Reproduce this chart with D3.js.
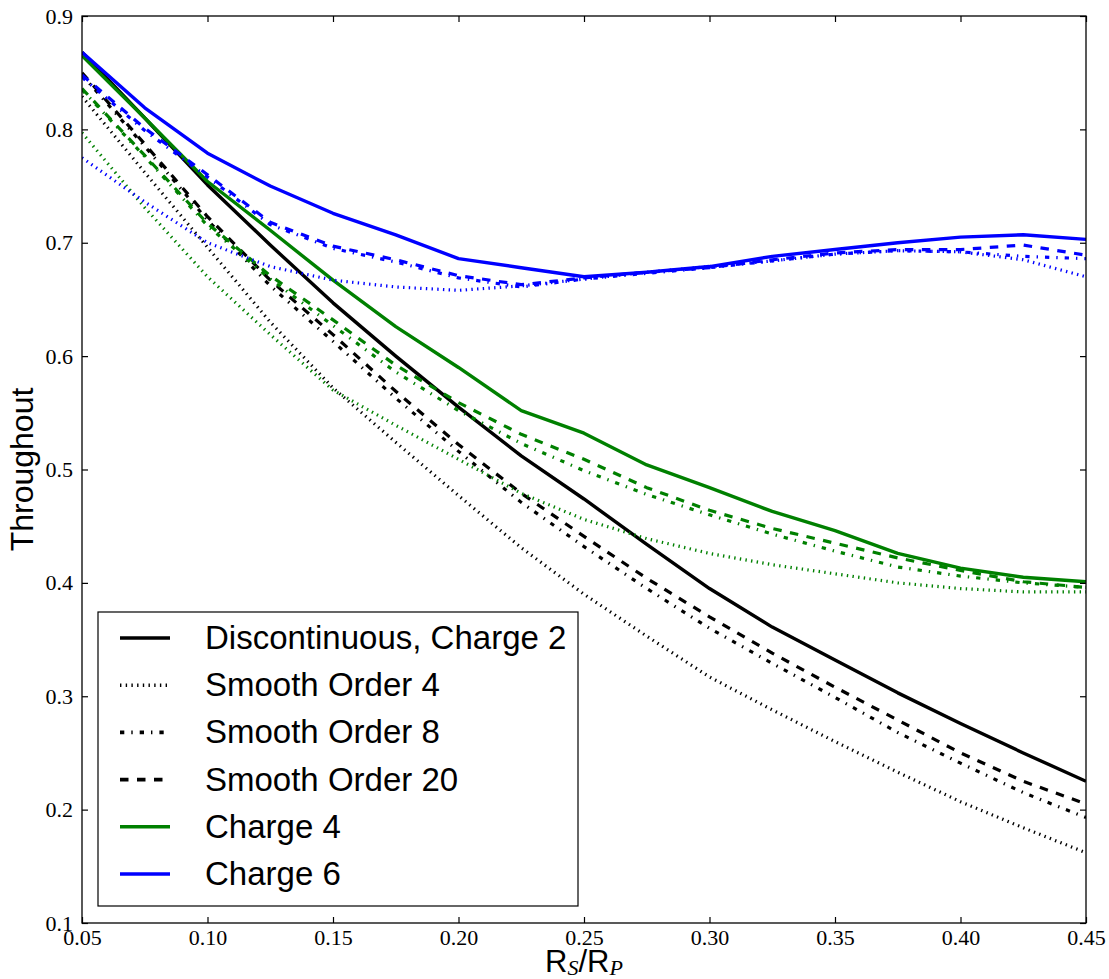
<!DOCTYPE html>
<html>
<head>
<meta charset="utf-8">
<script src="https://cdn.jsdelivr.net/npm/d3@7"></script>
<style>
  html, body { margin: 0; padding: 0; background: #fff; }
  svg { display: block; }
</style>
</head>
<body>
<div id="chart"></div>
<script>
// ---------- data ----------
const ratios = [0.05, 0.075, 0.10, 0.125, 0.15, 0.175, 0.20, 0.225, 0.25, 0.275, 0.30, 0.325, 0.35, 0.375, 0.40, 0.425, 0.45];

const charge2Disc   = [0.868, 0.810, 0.751, 0.698, 0.647, 0.600, 0.555, 0.512, 0.474, 0.434, 0.395, 0.361, 0.332, 0.303, 0.276, 0.250, 0.225];
const charge2Ord4   = [0.829, 0.762, 0.696, 0.630, 0.572, 0.524, 0.477, 0.431, 0.390, 0.353, 0.317, 0.288, 0.260, 0.233, 0.207, 0.184, 0.162];
const charge2Ord8   = [0.848, 0.785, 0.720, 0.662, 0.613, 0.563, 0.516, 0.471, 0.432, 0.395, 0.360, 0.329, 0.299, 0.268, 0.241, 0.215, 0.193];
const charge2Ord20  = [0.850, 0.787, 0.723, 0.667, 0.619, 0.569, 0.522, 0.479, 0.441, 0.404, 0.370, 0.338, 0.308, 0.279, 0.250, 0.225, 0.205];

const charge4Disc   = [0.865, 0.810, 0.754, 0.711, 0.667, 0.626, 0.590, 0.552, 0.532, 0.504, 0.484, 0.463, 0.446, 0.426, 0.413, 0.405, 0.401];
const charge4Ord4   = [0.797, 0.731, 0.670, 0.619, 0.570, 0.539, 0.509, 0.479, 0.456, 0.439, 0.426, 0.416, 0.408, 0.400, 0.395, 0.392, 0.392];
const charge4Ord8   = [0.835, 0.776, 0.715, 0.668, 0.627, 0.586, 0.552, 0.523, 0.499, 0.478, 0.460, 0.443, 0.428, 0.414, 0.406, 0.400, 0.396];
const charge4Ord20  = [0.836, 0.777, 0.717, 0.671, 0.632, 0.592, 0.559, 0.531, 0.509, 0.484, 0.464, 0.448, 0.435, 0.422, 0.411, 0.401, 0.396];

const charge6Disc   = [0.868, 0.819, 0.779, 0.750, 0.726, 0.707, 0.686, 0.678, 0.670, 0.674, 0.679, 0.688, 0.694, 0.700, 0.705, 0.707, 0.703];
const charge6Ord4   = [0.775, 0.736, 0.700, 0.679, 0.667, 0.661, 0.658, 0.662, 0.668, 0.674, 0.679, 0.684, 0.690, 0.693, 0.692, 0.685, 0.670];
const charge6Ord8   = [0.846, 0.799, 0.758, 0.716, 0.695, 0.683, 0.669, 0.661, 0.668, 0.673, 0.678, 0.684, 0.690, 0.693, 0.692, 0.688, 0.686];
const charge6Ord20  = [0.848, 0.801, 0.760, 0.718, 0.697, 0.685, 0.671, 0.663, 0.669, 0.674, 0.678, 0.685, 0.691, 0.694, 0.694, 0.698, 0.689];

const xTicks = [0.05, 0.10, 0.15, 0.20, 0.25, 0.30, 0.35, 0.40, 0.45];
const yTicks = [0.1, 0.2, 0.3, 0.4, 0.5, 0.6, 0.7, 0.8, 0.9];

const legendLabels = ["Discontinuous, Charge 2", "Smooth Order 4", "Smooth Order 8", "Smooth Order 20", "Charge 4", "Charge 6"];

// ---------- styles ----------
const BLACK = "#000000", GREEN = "#008000", BLUE = "#0000ff";
const LW = 3.4;
const dashStyles = {
  solid: null,
  dotted: "1.4,4.3",
  dashdot: "4.3,7,1.4,7",
  dashed: "8.5,8.5"
};

const series = [
  { values: charge2Disc,  color: BLACK, style: "solid" },
  { values: charge2Ord4,  color: BLACK, style: "dotted" },
  { values: charge2Ord8,  color: BLACK, style: "dashdot" },
  { values: charge2Ord20, color: BLACK, style: "dashed" },
  { values: charge4Disc,  color: GREEN, style: "solid" },
  { values: charge4Ord4,  color: GREEN, style: "dotted" },
  { values: charge4Ord8,  color: GREEN, style: "dashdot" },
  { values: charge4Ord20, color: GREEN, style: "dashed" },
  { values: charge6Disc,  color: BLUE,  style: "solid" },
  { values: charge6Ord4,  color: BLUE,  style: "dotted" },
  { values: charge6Ord8,  color: BLUE,  style: "dashdot" },
  { values: charge6Ord20, color: BLUE,  style: "dashed" }
];
const legendItems = [
  { color: BLACK, style: "solid" },
  { color: BLACK, style: "dotted" },
  { color: BLACK, style: "dashdot" },
  { color: BLACK, style: "dashed" },
  { color: GREEN, style: "solid" },
  { color: BLUE,  style: "solid" }
];

// ---------- layout ----------
const W = 1109, H = 979;
const L = 82, R = 1086, T = 16, B = 923;

const svg = d3.select("#chart").append("svg").attr("width", W).attr("height", H);

const x = d3.scaleLinear().domain([0.05, 0.45]).range([L, R]);
const y = d3.scaleLinear().domain([0.1, 0.9]).range([B, T]);

svg.append("defs").append("clipPath").attr("id", "plotclip")
  .append("rect").attr("x", L).attr("y", T).attr("width", R - L).attr("height", B - T);

// lines
const line = d3.line().x((d, i) => x(ratios[i])).y(d => y(d));
const gLines = svg.append("g").attr("clip-path", "url(#plotclip)");
series.forEach(s => {
  const p = gLines.append("path")
    .attr("d", line(s.values))
    .attr("fill", "none")
    .attr("stroke", s.color)
    .attr("stroke-width", s.style === "solid" ? LW : 3.2)
    .attr("stroke-linejoin", "round");
  if (dashStyles[s.style]) p.attr("stroke-dasharray", dashStyles[s.style]).attr("stroke-linecap", "butt");
});

// axes
const tickFont = "'Liberation Serif', 'DejaVu Serif', serif";
function styleAxis(g) {
  g.select(".domain").remove();
  g.selectAll(".tick line").attr("stroke", "#000").attr("stroke-width", 1.2);
  g.selectAll(".tick text").attr("font-family", tickFont).attr("font-size", 22).attr("fill", "#000");
}
svg.append("g").attr("transform", `translate(0,${B})`)
  .call(d3.axisBottom(x).tickValues(xTicks).tickFormat(d3.format(".2f")).tickSize(-6).tickPadding(6))
  .call(styleAxis);
svg.append("g").attr("transform", `translate(0,${T})`)
  .call(d3.axisTop(x).tickValues(xTicks).tickFormat("").tickSize(-6))
  .call(styleAxis);
svg.append("g").attr("transform", `translate(${L},0)`)
  .call(d3.axisLeft(y).tickValues(yTicks).tickFormat(d3.format(".1f")).tickSize(-6).tickPadding(9))
  .call(styleAxis);
svg.append("g").attr("transform", `translate(${R},0)`)
  .call(d3.axisRight(y).tickValues(yTicks).tickFormat("").tickSize(-6))
  .call(styleAxis);

// frame
svg.append("rect").attr("x", L).attr("y", T).attr("width", R - L).attr("height", B - T)
  .attr("fill", "none").attr("stroke", "#000").attr("stroke-width", 1.3);

// axis labels
const sans = "'Liberation Sans', Arial, Helvetica, sans-serif";
svg.append("text")
  .attr("transform", `translate(33,${(T + B) / 2}) rotate(-90)`)
  .attr("text-anchor", "middle")
  .attr("font-family", sans).attr("font-size", 32).attr("fill", "#000")
  .text("Throughout");

const xl = svg.append("text")
  .attr("x", (L + R) / 2).attr("y", 972)
  .attr("text-anchor", "middle")
  .attr("font-family", sans).attr("font-size", 31).attr("fill", "#000");
xl.append("tspan").text("R");
xl.append("tspan").attr("font-family", tickFont).attr("font-style", "italic").attr("font-size", 22).attr("dy", 3).text("S");
xl.append("tspan").attr("dy", -3).text("/R");
xl.append("tspan").attr("font-family", tickFont).attr("font-style", "italic").attr("font-size", 22).attr("dy", 3).text("P");

// legend
const lg = svg.append("g");
lg.append("rect").attr("x", 98).attr("y", 612).attr("width", 480).attr("height", 294)
  .attr("fill", "#fff").attr("stroke", "#000").attr("stroke-width", 1.2);
const rowY = d3.scaleLinear().domain([0, legendLabels.length - 1]).range([638, 874]);
legendLabels.forEach((lab, i) => {
  const it = legendItems[i];
  const ln = lg.append("line").attr("x1", 120).attr("x2", 170).attr("y1", rowY(i)).attr("y2", rowY(i))
    .attr("stroke", it.color).attr("stroke-width", 3.6);
  if (dashStyles[it.style]) ln.attr("stroke-dasharray", dashStyles[it.style]);
  lg.append("text").attr("x", 205).attr("y", rowY(i) + 11)
    .attr("font-family", sans).attr("font-size", 33).attr("fill", "#000").text(lab);
});
</script>
</body>
</html>
